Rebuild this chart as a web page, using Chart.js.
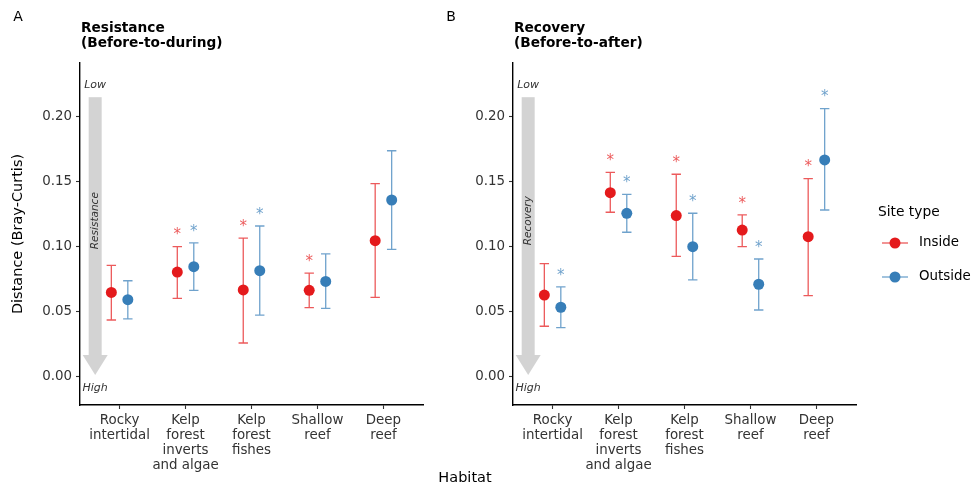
<!DOCTYPE html>
<html>
<head>
<meta charset="utf-8">
<script src="https://cdn.jsdelivr.net/npm/chart.js@4.4.0/dist/chart.umd.min.js"></script>
<style>
  html, body { margin: 0; padding: 0; background: #fff; }
  #wrap { position: relative; width: 974px; height: 487px; }
  #wrap canvas { position: absolute; left: 0; top: 0; }
</style>
</head>
<body>
<div id="wrap">
  <canvas id="chartA" width="974" height="487"></canvas>
  <canvas id="chartB" width="974" height="487"></canvas>
</div>
<script>
// Categories and tick labels
const habitats = [
    ['Rocky', 'intertidal'],
    ['Kelp', 'forest', 'inverts', 'and algae'],
    ['Kelp', 'forest', 'fishes'],
    ['Shallow', 'reef'],
    ['Deep', 'reef']
];
const yTicks = [0, 0.05, 0.10, 0.15, 0.20];

// Panel A - Resistance (before-to-during)
const resInsideMean  = [0.0648, 0.0805, 0.0667, 0.0664, 0.1046];
const resInsideLow   = [0.0436, 0.0602, 0.0259, 0.0531, 0.0610];
const resInsideHigh  = [0.0856, 0.1000, 0.1066, 0.0797, 0.1485];
const resInsideSig   = [false, true, true, true, false];
const resOutsideMean = [0.0592, 0.0846, 0.0815, 0.0733, 0.1359];
const resOutsideLow  = [0.0444, 0.0664, 0.0474, 0.0526, 0.0979];
const resOutsideHigh = [0.0738, 0.1029, 0.1159, 0.0944, 0.1738];
const resOutsideSig  = [false, true, true, false, false];

// Panel B - Recovery (before-to-after)
const recInsideMean  = [0.0628, 0.1415, 0.1239, 0.1128, 0.1077];
const recInsideLow   = [0.0388, 0.1265, 0.0926, 0.1000, 0.0623];
const recInsideHigh  = [0.0869, 0.1572, 0.1557, 0.1244, 0.1523];
const recInsideSig   = [false, true, true, true, true];
const recOutsideMean = [0.0534, 0.1257, 0.1000, 0.0711, 0.1667];
const recOutsideLow  = [0.0377, 0.1111, 0.0744, 0.0513, 0.1282];
const recOutsideHigh = [0.0690, 0.1403, 0.1257, 0.0905, 0.2062];
const recOutsideSig  = [true, true, true, true, true];

const FONT = '"DejaVu Sans", "Liberation Sans", sans-serif';
const colors = {
    inside: '#E41A1C',
    insideBar: 'rgba(228, 26, 28, 0.72)',
    outside: '#377EB8',
    outsideBar: 'rgba(55, 126, 184, 0.72)',
    arrow: '#d3d3d3',
    text: '#333333'
};
const dodge = 0.125;      // half-width of the dodge, in category units
const starGap = 0.012;    // star sits this far above the upper bar
const arrow = { x: 0.63, top: 0.215, headBase: 0.0167, tip: 0.0012, low: 0.2244, high: -0.0087, label: 0.12 };

function drawErrorBars(chart, series) {
    const ctx = chart.ctx, xs = chart.scales.x, ys = chart.scales.y;
    ctx.save();
    ctx.lineWidth = 1.3;
    series.forEach(s => {
        ctx.strokeStyle = s.barColor;
        s.mean.forEach((m, i) => {
            const px = xs.getPixelForValue(i + 1 + s.offset);
            const lo = ys.getPixelForValue(s.low[i]);
            const hi = ys.getPixelForValue(s.high[i]);
            ctx.beginPath();
            ctx.moveTo(px, lo); ctx.lineTo(px, hi);
            ctx.moveTo(px - 4.7, lo); ctx.lineTo(px + 4.7, lo);
            ctx.moveTo(px - 4.7, hi); ctx.lineTo(px + 4.7, hi);
            ctx.stroke();
        });
    });
    ctx.restore();
}

function drawStars(chart, series) {
    const ctx = chart.ctx, xs = chart.scales.x, ys = chart.scales.y;
    ctx.save();
    ctx.font = '15px ' + FONT;
    ctx.textAlign = 'center';
    ctx.textBaseline = 'alphabetic';
    series.forEach(s => {
        ctx.fillStyle = s.barColor;
        s.sig.forEach((flag, i) => {
            if (!flag) return;
            const px = xs.getPixelForValue(i + 1 + s.offset);
            const py = ys.getPixelForValue(s.high[i] + starGap);
            ctx.fillText('*', px, py + 8.2);
        });
    });
    ctx.restore();
}

function drawArrow(chart, label) {
    const ctx = chart.ctx, xs = chart.scales.x, ys = chart.scales.y;
    const ax = xs.getPixelForValue(arrow.x);
    const yTop = ys.getPixelForValue(arrow.top);
    const yBase = ys.getPixelForValue(arrow.headBase);
    const yTip = ys.getPixelForValue(arrow.tip);
    ctx.save();
    ctx.fillStyle = colors.arrow;
    ctx.fillRect(ax - 6.5, yTop, 13, yBase - yTop + 0.5);
    ctx.beginPath();
    ctx.moveTo(ax - 12.5, yBase);
    ctx.lineTo(ax + 12.5, yBase);
    ctx.lineTo(ax, yTip);
    ctx.closePath();
    ctx.fill();

    ctx.fillStyle = colors.text;
    ctx.textAlign = 'center';
    ctx.textBaseline = 'middle';
    ctx.font = 'italic 11px ' + FONT;
    ctx.fillText('Low', ax, ys.getPixelForValue(arrow.low));
    ctx.fillText('High', ax, ys.getPixelForValue(arrow.high));
    ctx.translate(ax, ys.getPixelForValue(arrow.label));
    ctx.rotate(-Math.PI / 2);
    ctx.font = 'italic 10.5px ' + FONT;
    ctx.fillText(label, 0, 0);
    ctx.restore();
}

function drawTitles(chart, p) {
    const ctx = chart.ctx;
    ctx.save();
    ctx.fillStyle = '#000';
    ctx.textBaseline = 'middle';
    ctx.textAlign = 'center';
    ctx.font = '14px ' + FONT;
    ctx.fillText(p.letter, p.letterX, 17);
    ctx.textAlign = 'left';
    ctx.font = 'bold 13.7px ' + FONT;
    ctx.fillText(p.title[0], p.left + 1, 28);
    ctx.fillText(p.title[1], p.left + 1, 43);
    ctx.restore();
}

function makePanel(id, p) {
    const series = [
        { mean: p.inMean, low: p.inLow, high: p.inHigh, sig: p.inSig, color: colors.inside, barColor: colors.insideBar, offset: -dodge },
        { mean: p.outMean, low: p.outLow, high: p.outHigh, sig: p.outSig, color: colors.outside, barColor: colors.outsideBar, offset: dodge }
    ];

    const extras = {
        id: 'panelExtras',
        beforeDatasetsDraw(chart) {
            drawArrow(chart, p.arrowLabel);
            drawErrorBars(chart, series);
        },
        afterDatasetsDraw(chart) {
            drawStars(chart, series);
        },
        afterDraw(chart) {
            drawTitles(chart, p);
            if (p.afterDraw) p.afterDraw(chart);
        }
    };

    return new Chart(document.getElementById(id).getContext('2d'), {
        type: 'scatter',
        data: {
            datasets: series.map((s, k) => ({
                label: k === 0 ? 'Inside' : 'Outside',
                data: s.mean.map((m, i) => ({ x: i + 1 + s.offset, y: m })),
                backgroundColor: s.color,
                borderWidth: 0,
                pointRadius: 5.5,
                pointHoverRadius: 5.5
            }))
        },
        options: {
            responsive: false,
            animation: false,
            events: [],
            layout: { padding: { left: p.left - 80, right: 974 - p.right, top: 63, bottom: 0 } },
            plugins: { legend: { display: false }, tooltip: { enabled: false } },
            scales: {
                x: {
                    type: 'linear',
                    min: 0.4,
                    max: 5.6,
                    afterBuildTicks: scale => { scale.ticks = habitats.map((h, i) => ({ value: i + 1 })); },
                    afterFit: scale => { scale.height = 82; },
                    ticks: {
                        autoSkip: false,
                        maxRotation: 0,
                        minRotation: 0,
                        padding: 4,
                        color: colors.text,
                        font: { family: FONT, size: 13.4, lineHeight: 1.12 },
                        callback: v => habitats[v - 1]
                    },
                    grid: { drawOnChartArea: false, drawTicks: true, tickLength: 4, tickColor: colors.text, tickWidth: 1.1 },
                    border: { display: true, color: '#000', width: 1.4 }
                },
                y: {
                    min: -0.0218,
                    max: 0.2413,
                    afterBuildTicks: scale => { scale.ticks = yTicks.map(v => ({ value: v })); },
                    afterFit: scale => { scale.width = 80; },
                    ticks: {
                        padding: 4,
                        color: colors.text,
                        font: { family: FONT, size: 13.4 },
                        callback: v => v.toFixed(2)
                    },
                    grid: { drawOnChartArea: false, drawTicks: true, tickLength: 4, tickColor: colors.text, tickWidth: 1.1 },
                    border: { display: true, color: '#000', width: 1.4 }
                }
            }
        },
        plugins: [extras]
    });
}

// Shared axis titles live on panel A
function drawAxisTitles(chart) {
    const ctx = chart.ctx;
    ctx.save();
    ctx.fillStyle = '#000';
    ctx.textAlign = 'center';
    ctx.textBaseline = 'middle';
    ctx.font = '14.5px ' + FONT;
    ctx.fillText('Habitat', 465, 478);
    ctx.translate(18.5, 234);
    ctx.rotate(-Math.PI / 2);
    ctx.fillText('Distance (Bray-Curtis)', 0, 0);
    ctx.restore();
}

// Legend lives on panel B
function drawLegend(chart) {
    const ctx = chart.ctx;
    const rows = [
        { label: 'Inside', color: colors.inside, bar: colors.insideBar, y: 243 },
        { label: 'Outside', color: colors.outside, bar: colors.outsideBar, y: 277 }
    ];
    ctx.save();
    ctx.fillStyle = '#000';
    ctx.textAlign = 'left';
    ctx.textBaseline = 'middle';
    ctx.font = '13.8px ' + FONT;
    ctx.fillText('Site type', 878, 212);
    ctx.font = '13.4px ' + FONT;
    rows.forEach(r => {
        ctx.strokeStyle = r.bar;
        ctx.lineWidth = 1.3;
        ctx.beginPath();
        ctx.moveTo(882, r.y); ctx.lineTo(908, r.y);
        ctx.stroke();
        ctx.fillStyle = r.color;
        ctx.beginPath();
        ctx.arc(895, r.y, 5.5, 0, Math.PI * 2);
        ctx.fill();
        ctx.fillStyle = '#000';
        ctx.fillText(r.label, 919, r.y);
    });
    ctx.restore();
}

makePanel('chartA', {
    left: 80, right: 423, letter: 'A', letterX: 18,
    title: ['Resistance', '(Before-to-during)'], arrowLabel: 'Resistance',
    inMean: resInsideMean, inLow: resInsideLow, inHigh: resInsideHigh, inSig: resInsideSig,
    outMean: resOutsideMean, outLow: resOutsideLow, outHigh: resOutsideHigh, outSig: resOutsideSig,
    afterDraw: drawAxisTitles
});

makePanel('chartB', {
    left: 513, right: 856, letter: 'B', letterX: 451,
    title: ['Recovery', '(Before-to-after)'], arrowLabel: 'Recovery',
    inMean: recInsideMean, inLow: recInsideLow, inHigh: recInsideHigh, inSig: recInsideSig,
    outMean: recOutsideMean, outLow: recOutsideLow, outHigh: recOutsideHigh, outSig: recOutsideSig,
    afterDraw: drawLegend
});
</script>
</body>
</html>
